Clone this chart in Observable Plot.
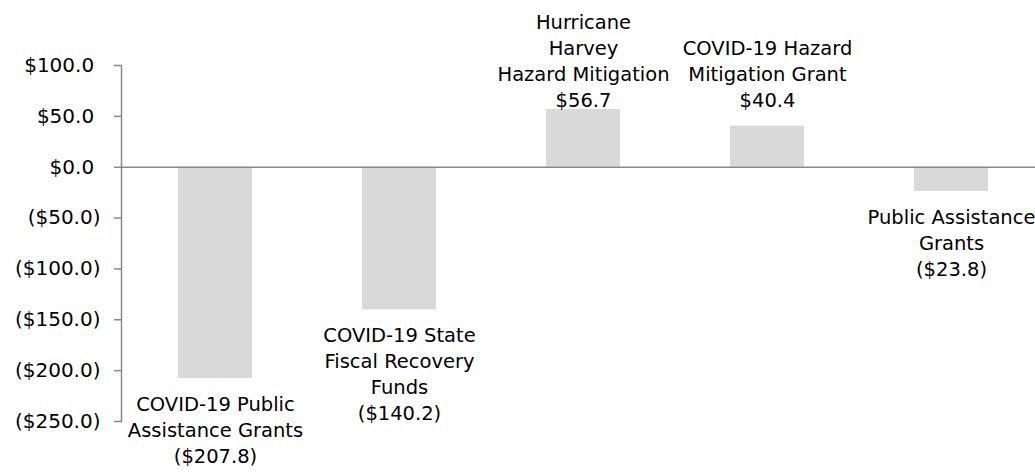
<!DOCTYPE html>
<html>
<head>
<meta charset="utf-8">
<script src="https://cdn.jsdelivr.net/npm/d3@7"></script>
<script src="https://cdn.jsdelivr.net/npm/@observablehq/plot@0.6"></script>
<style>
  html, body { margin: 0; padding: 0; background: #fff; }
  #chart svg { display: block; }
</style>
</head>
<body>
<div id="chart"></div>
<script>
const categories = [
  "COVID-19 Public Assistance Grants",
  "COVID-19 State Fiscal Recovery Funds",
  "Hurricane Harvey Hazard Mitigation",
  "COVID-19 Hazard Mitigation Grant",
  "Public Assistance Grants"
];
const values = [-207.8, -140.2, 56.7, 40.4, -23.8];
const labelLines = [
  ["COVID-19 Public", "Assistance Grants"],
  ["COVID-19 State", "Fiscal Recovery", "Funds"],
  ["Hurricane", "Harvey", "Hazard Mitigation"],
  ["COVID-19 Hazard", "Mitigation Grant"],
  ["Public Assistance", "Grants"]
];
const yTicks = [-250, -200, -150, -100, -50, 0, 50, 100];

const money = v => v < 0 ? `($${Math.abs(v).toFixed(1)})` : `$${v.toFixed(1)}\u2008`;
const moneyPlain = v => v < 0 ? `($${Math.abs(v).toFixed(1)})` : `$${v.toFixed(1)}`;

const data = categories.map((c, i) => ({
  cat: c,
  value: values[i],
  label: [...labelLines[i], moneyPlain(values[i])].join("\n")
}));
const neg = data.filter(d => d.value < 0);
const pos = data.filter(d => d.value >= 0);
const maxPos = d3.max(pos, d => d.value);

const axisGray = "#898989";

const chart = Plot.plot({
  width: 1035,
  height: 473,
  marginTop: 65,
  marginBottom: 52,
  marginLeft: 121,
  marginRight: 0,
  style: { fontFamily: "DejaVu Sans", fontSize: "20px", color: "#000", background: "#fff", overflow: "visible" },
  x: { domain: categories, range: [121, 1045], paddingInner: 0.6, paddingOuter: 0.3, axis: null },
  y: { domain: [-250, 100], axis: null },
  marks: [
    Plot.barY(data, { x: "cat", y: "value", fill: "#d9d9d9" }),
    Plot.ruleY([0], { stroke: axisGray, strokeWidth: 1.5 }),
    Plot.frame({ anchor: "left", stroke: axisGray, strokeWidth: 1.5 }),
    Plot.axisY({ ticks: yTicks, tickFormat: money, tickSize: 7, tickPadding: 14, stroke: axisGray, strokeWidth: 1.5, fill: "#000", fontSize: 20, label: null }),
    Plot.text(neg, { x: "cat", y: "value", text: "label", lineAnchor: "top", dy: 14, lineHeight: 1.33, fontSize: 19.5, fill: "#000" }),
    Plot.text(pos, { x: "cat", y: () => maxPos, text: "label", lineAnchor: "bottom", dy: -3, lineHeight: 1.33, fontSize: 19.5, fill: "#000" })
  ]
});
document.getElementById("chart").appendChild(chart);
</script>
</body>
</html>
